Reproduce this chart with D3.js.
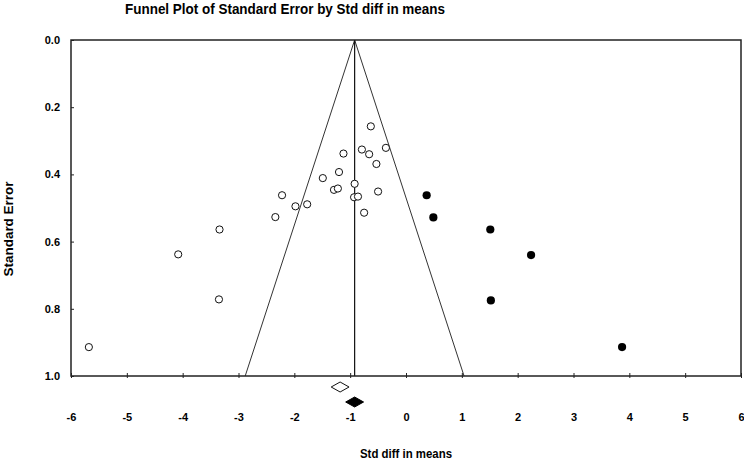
<!DOCTYPE html>
<html>
<head>
<meta charset="utf-8">
<script src="https://cdn.jsdelivr.net/npm/d3@7"></script>
<style>
  body { margin: 0; background: #fff; }
  svg text { font-family: "Liberation Sans", Arial, sans-serif; font-weight: bold; fill: #000; }
</style>
</head>
<body>
<div id="chart"></div>
<script>
// observed studies (open circles)
var observedEffect = [-0.63, -0.36, -0.79, -0.66, -1.12, -0.53, -1.20, -1.49, -0.92, -1.29, -1.22, -0.50,
  -0.93, -0.86, -0.75, -1.77, -2.22, -1.98, -2.34, -3.34, -4.08, -3.35, -5.68];
var observedSE = [0.257, 0.321, 0.326, 0.340, 0.338, 0.369, 0.393, 0.411, 0.428, 0.446, 0.442, 0.451,
  0.468, 0.466, 0.514, 0.489, 0.462, 0.495, 0.527, 0.564, 0.638, 0.772, 0.914];

// imputed studies (filled circles)
var imputedEffect = [0.37, 0.49, 1.51, 2.24, 1.52, 3.87];
var imputedSE = [0.462, 0.528, 0.564, 0.640, 0.775, 0.914];

// summary estimates: [lower, point, upper]
var observedSummary = [-1.34, -1.18, -1.02];
var adjustedSummary = [-1.08, -0.92, -0.76];

var funnelCenter = -0.92;
var funnelZ = 1.96;

var xTickValues = [-6, -5, -4, -3, -2, -1, 0, 1, 2, 3, 4, 5, 6];
var yTickValues = [0.0, 0.2, 0.4, 0.6, 0.8, 1.0];

var margin = { top: 40, right: 3, bottom: 85, left: 71 },
  width = 744 - margin.left - margin.right,
  height = 461 - margin.top - margin.bottom;

var svg = d3.select("#chart")
  .append("svg")
  .attr("width", 744)
  .attr("height", 461);

svg.append("text")
  .attr("x", 285)
  .attr("y", 14)
  .attr("text-anchor", "middle")
  .attr("font-size", 15)
  .attr("textLength", 320)
  .attr("lengthAdjust", "spacingAndGlyphs")
  .text("Funnel Plot of Standard Error by Std diff in means");

var g = svg.append("g")
  .attr("transform", `translate(${margin.left},${margin.top})`);

var x = d3.scaleLinear().domain([-6, 6]).range([0, width]);
var y = d3.scaleLinear().domain([0, 1]).range([0, height]);

// axes
var xAxis = g.append("g")
  .attr("transform", `translate(0,${height})`)
  .call(d3.axisBottom(x).tickValues(xTickValues).tickFormat(d => String(d)).tickSizeInner(-3).tickSizeOuter(0).tickPadding(37));
xAxis.select(".domain").remove();
xAxis.selectAll(".tick line").attr("y2", -3).attr("y1", 2).attr("stroke", "#222");
xAxis.selectAll("text").attr("font-size", 11).attr("font-family", null);

var yAxis = g.append("g")
  .call(d3.axisLeft(y).tickValues(yTickValues).tickFormat(d => d.toFixed(1)).tickSizeInner(-3).tickSizeOuter(0).tickPadding(11));
yAxis.select(".domain").remove();
yAxis.selectAll(".tick line").attr("stroke", "#222");
yAxis.selectAll("text").attr("font-size", 11).attr("font-family", null);

// funnel
g.append("path")
  .attr("d", d3.line()([
    [x(funnelCenter - funnelZ), y(1)],
    [x(funnelCenter), y(0)],
    [x(funnelCenter + funnelZ), y(1)]
  ]))
  .attr("fill", "none")
  .attr("stroke", "#333")
  .attr("stroke-width", 1);

g.append("line")
  .attr("x1", x(funnelCenter)).attr("x2", x(funnelCenter))
  .attr("y1", y(0)).attr("y2", y(1))
  .attr("stroke", "#111")
  .attr("stroke-width", 1.2);

// plot frame
g.append("rect")
  .attr("width", width)
  .attr("height", height)
  .attr("fill", "none")
  .attr("stroke", "#222")
  .attr("stroke-width", 1.5);

// points
var observed = observedEffect.map((d, i) => ({ x: d, se: observedSE[i] }));
var imputed = imputedEffect.map((d, i) => ({ x: d, se: imputedSE[i] }));

g.selectAll(".obs")
  .data(observed)
  .enter()
  .append("circle")
  .attr("class", "obs")
  .attr("cx", d => x(d.x))
  .attr("cy", d => y(d.se))
  .attr("r", 3.6)
  .attr("fill", "#fff")
  .attr("stroke", "#111")
  .attr("stroke-width", 1);

g.selectAll(".imp")
  .data(imputed)
  .enter()
  .append("circle")
  .attr("class", "imp")
  .attr("cx", d => x(d.x))
  .attr("cy", d => y(d.se))
  .attr("r", 4.1)
  .attr("fill", "#000");

// summary diamonds
function diamond(s, cy) {
  return d3.line()([
    [x(s[0]), cy], [x(s[1]), cy - 5], [x(s[2]), cy], [x(s[1]), cy + 5]
  ]) + "Z";
}

g.append("path")
  .attr("d", diamond(observedSummary, height + 11))
  .attr("fill", "#fff")
  .attr("stroke", "#111")
  .attr("stroke-width", 1);

g.append("path")
  .attr("d", diamond(adjustedSummary, height + 26))
  .attr("fill", "#000")
  .attr("stroke", "#000");

// axis titles
svg.append("text")
  .attr("x", margin.left + x(0))
  .attr("y", 458)
  .attr("text-anchor", "middle")
  .attr("font-size", 12)
  .attr("textLength", 92)
  .attr("lengthAdjust", "spacingAndGlyphs")
  .text("Std diff in means");

svg.append("text")
  .attr("transform", "translate(13,229) rotate(-90)")
  .attr("text-anchor", "middle")
  .attr("font-size", 13)
  .attr("textLength", 95)
  .attr("lengthAdjust", "spacingAndGlyphs")
  .text("Standard Error");
</script>
</body>
</html>
